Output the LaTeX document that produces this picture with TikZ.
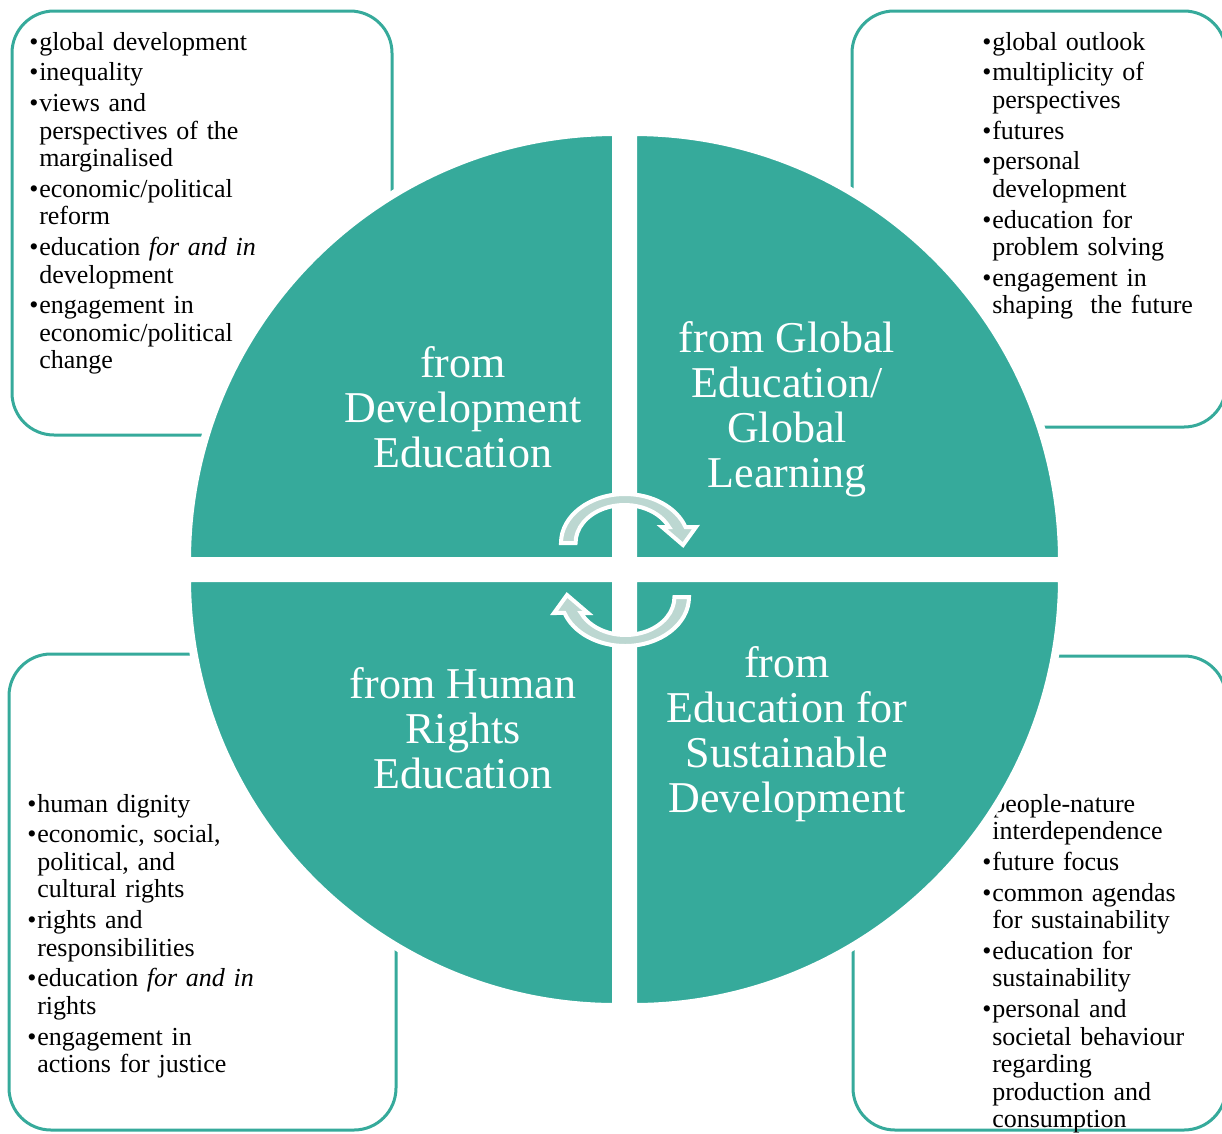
\documentclass[tikz,border=0pt]{standalone}
\usepackage{fontspec}
\setmainfont{Liberation Serif}
\usepackage{tikz}

\definecolor{quadteal}{RGB}{54,170,155}
\definecolor{arrowgrey}{RGB}{188,215,209}

% one bullet item, wrapped lines hang under the text
\newcommand{\bul}[1]{\hangindent=7.5pt\hangafter=1\noindent\makebox[7.5pt][l]{\textbullet}#1\par}

\begin{document}
\begin{tikzpicture}[x=0.75pt,y=0.75pt,yscale=-1,xscale=1,
  box/.style={draw=quadteal,line width=2.25pt,rounded corners=31.5pt},
  quad/.style={fill=quadteal,draw=white,line width=6pt},
  arw/.style={fill=arrowgrey,draw=white,line width=3pt},
  lbl/.style={anchor=base,align=center,text=white,inner sep=0pt,font=\fontsize{33}{33.75}\selectfont},
  lst/.style={anchor=base west,align=left,text width=240pt,inner sep=0pt,font=\fontsize{19.5}{20.6}\selectfont}]
\useasboundingbox (0,0) rectangle (1222,1133);
\clip (0,0) rectangle (1222,1133);

%Shape: Rounded Rect
\draw [box] (12,11) rectangle (392,435);
%Shape: Rounded Rect
\draw [box] (852,11) rectangle (1226,427);
%Shape: Rounded Rect
\draw [box] (9,654) rectangle (396,1130);
%Shape: Rounded Rect
\draw [box] (853,656) rectangle (1226,1130);

% Text Node
\draw (29,50) node (devlist) [lst] {\setlength{\parskip}{2.5pt}%
\bul{global development}
\bul{inequality}
\bul{views and\newline perspectives of the\newline marginalised}
\bul{economic/political\newline reform}
\bul{education \textit{for and in}\newline development}
\bul{engagement in\newline economic/political\newline change}};
% Text Node
\draw (982,50) node (glolist) [lst] {\setlength{\parskip}{2.5pt}%
\bul{global outlook}
\bul{multiplicity of\newline perspectives}
\bul{futures}
\bul{personal\newline development}
\bul{education for\newline problem solving}
\bul{engagement in\newline shaping~ the future}};
% Text Node
\draw (27,812) node (hrlist) [lst] {\setlength{\parskip}{2.5pt}%
\bul{human dignity}
\bul{economic, social,\newline political, and\newline cultural rights}
\bul{rights and\newline responsibilities}
\bul{education \textit{for and in}\newline rights}
\bul{engagement in\newline actions for justice}};
% Text Node
\draw (982,812) node (esdlist) [lst] {\setlength{\parskip}{2.5pt}%
\bul{people-nature\newline interdependence}
\bul{future focus}
\bul{common agendas\newline for sustainability}
\bul{education for\newline sustainability}
\bul{personal and\newline societal behaviour\newline regarding\newline production and\newline consumption}};

%Shape: Quarter Circle
\draw [quad] (616,561) -- ++(-429,0) arc[start angle=180,end angle=270,radius=429] -- cycle;
%Shape: Quarter Circle
\draw [quad] (633,561) -- ++(0,-429) arc[start angle=270,end angle=360,radius=429] -- cycle;
%Shape: Quarter Circle
\draw [quad] (633,578) -- ++(429,0) arc[start angle=0,end angle=90,radius=429] -- cycle;
%Shape: Quarter Circle
\draw [quad] (616,578) -- ++(0,429) arc[start angle=90,end angle=180,radius=429] -- cycle;

% Text Node (anchored at the last line)
\draw (463,467) node (devlbl) [lbl] {from\\Development\\Education};
% Text Node
\draw (787,487) node (glolbl) [lbl] {from Global\\Education/\\Global\\Learning};
% Text Node
\draw (463,788) node (hrlbl) [lbl] {from Human\\Rights\\Education};
% Text Node
\draw (787,812) node (esdlbl) [lbl] {from\\Education for\\Sustainable\\Development};

%Shape: Circular Arrow
\draw [arw] (561,543) arc[start angle=180,end angle=341,x radius=64,y radius=49] -- (696,527) -- (683,545) -- (662,527) -- (669,527) arc[start angle=335.1,end angle=180,x radius=49,y radius=38] -- cycle;
%Shape: Circular Arrow
\begin{scope}[rotate around={180:(625,570)}]
\draw [arw] (561,543) arc[start angle=180,end angle=341,x radius=64,y radius=49] -- (696,527) -- (683,545) -- (662,527) -- (669,527) arc[start angle=335.1,end angle=180,x radius=49,y radius=38] -- cycle;
\end{scope}

\end{tikzpicture}
\end{document}
